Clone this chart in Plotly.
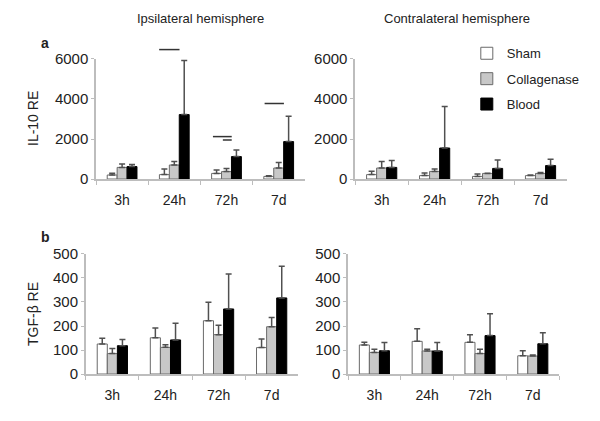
import plotly.graph_objects as go

# ---------------- data ----------------
categories = ["3h", "24h", "72h", "7d"]
series_names = ["Sham", "Collagenase", "Blood"]

il10_ipsi_sham = [200, 220, 280, 130]
il10_ipsi_sham_err = [85, 280, 170, 35]
il10_ipsi_coll = [580, 700, 370, 550]
il10_ipsi_coll_err = [170, 180, 150, 280]
il10_ipsi_blood = [620, 3220, 1120, 1870]
il10_ipsi_blood_err = [100, 2700, 330, 1270]

il10_contra_sham = [220, 170, 130, 170]
il10_contra_sham_err = [165, 130, 120, 35]
il10_contra_coll = [550, 380, 280, 280]
il10_contra_coll_err = [330, 120, 10, 50]
il10_contra_blood = [580, 1550, 530, 670]
il10_contra_blood_err = [340, 2080, 420, 320]

tgf_ipsi_sham = [125, 151, 222, 110]
tgf_ipsi_sham_err = [24, 41, 77, 36]
tgf_ipsi_coll = [85, 111, 164, 197]
tgf_ipsi_coll_err = [21, 11, 39, 38]
tgf_ipsi_blood = [118, 142, 271, 317]
tgf_ipsi_blood_err = [26, 69, 146, 132]

tgf_contra_sham = [121, 136, 132, 76]
tgf_contra_sham_err = [11, 53, 32, 21]
tgf_contra_coll = [90, 96, 85, 75]
tgf_contra_coll_err = [13, 7, 18, 4]
tgf_contra_blood = [97, 96, 160, 126]
tgf_contra_blood_err = [34, 35, 91, 46]

il10_ticks = [0, 2000, 4000, 6000]
tgf_ticks = [0, 100, 200, 300, 400, 500]

# significance bars (ipsilateral IL-10): category index, start offset, end offset, level
sig_cat = [1, 2, 2, 3]
sig_start = [-0.29, -0.26, -0.07, -0.27]
sig_end = [0.10, 0.10, 0.10, 0.10]
sig_level = [6470, 2120, 1950, 3780]

# ---------------- styles ----------------
fills = ["#ffffff", "#c8c8c8", "#000000"]
outlines = ["#6a6a6a", "#6a6a6a", "#000000"]
err_color = "#505050"
axis_color = "#bdbdbd"
text_color = "#222222"
FONT = "Liberation Sans, Arial, sans-serif"

panels = [
    ("x", "y", [il10_ipsi_sham, il10_ipsi_coll, il10_ipsi_blood],
     [il10_ipsi_sham_err, il10_ipsi_coll_err, il10_ipsi_blood_err]),
    ("x2", "y2", [il10_contra_sham, il10_contra_coll, il10_contra_blood],
     [il10_contra_sham_err, il10_contra_coll_err, il10_contra_blood_err]),
    ("x3", "y3", [tgf_ipsi_sham, tgf_ipsi_coll, tgf_ipsi_blood],
     [tgf_ipsi_sham_err, tgf_ipsi_coll_err, tgf_ipsi_blood_err]),
    ("x4", "y4", [tgf_contra_sham, tgf_contra_coll, tgf_contra_blood],
     [tgf_contra_sham_err, tgf_contra_coll_err, tgf_contra_blood_err]),
]

fig = go.Figure()
for pi, (xa, ya, vals, errs) in enumerate(panels):
    for si in range(3):
        fig.add_trace(go.Bar(
            x=categories, y=vals[si], name=series_names[si],
            xaxis=xa, yaxis=ya,
            marker=dict(color=fills[si], line=dict(color=outlines[si], width=1)),
            error_y=dict(type="data", array=errs[si], arrayminus=[0] * len(errs[si]),
                         symmetric=False, color=err_color, thickness=1.5, width=3),
            showlegend=(pi == 0), legendgroup=series_names[si],
        ))

xdom = {"x": [0.160, 0.508], "x2": [0.592, 0.945], "x3": [0.143, 0.497], "x4": [0.580, 0.932]}
ydom = {"y": [0.5748, 0.8599], "y2": [0.5748, 0.8599], "y3": [0.1116, 0.3967], "y4": [0.1116, 0.3967]}

common_x = dict(type="category", showline=True, linecolor=axis_color, linewidth=1.5,
                ticks="outside", tickson="boundaries", ticklen=4, tickcolor=axis_color,
                tickfont=dict(size=14, color=text_color), ticklabelstandoff=7,
                showgrid=False, zeroline=False, range=[-0.5, 3.5], automargin=False)
common_y = dict(showline=True, linecolor=axis_color, linewidth=1.5,
                ticks="outside", ticklen=3, tickcolor=axis_color,
                tickfont=dict(size=15, color=text_color),
                showgrid=False, zeroline=False, automargin=False)

layout = dict(
    width=600, height=421, margin=dict(l=0, r=0, t=0, b=0, pad=0, autoexpand=False),
    paper_bgcolor="white", plot_bgcolor="white",
    font=dict(family=FONT, color=text_color, size=14),
    barmode="group", bargap=0.43, bargroupgap=0,
    legend=dict(x=0.778, y=0.909, xanchor="left", yanchor="top",
                font=dict(size=13), tracegroupgap=5.5, bgcolor="rgba(0,0,0,0)",
                itemwidth=30),
)
for k in ["x", "x2", "x3", "x4"]:
    name = "xaxis" if k == "x" else "xaxis" + k[1:]
    yk = "y" + k[1:]
    layout[name] = dict(common_x, domain=xdom[k], anchor=yk)
for k in ["y", "y2", "y3", "y4"]:
    name = "yaxis" if k == "y" else "yaxis" + k[1:]
    xk = "x" + k[1:]
    ticks = il10_ticks if k in ("y", "y2") else tgf_ticks
    layout[name] = dict(common_y, domain=ydom[k], anchor=xk,
                        range=[ticks[0], ticks[-1]], tickvals=ticks)
fig.update_layout(**layout)

# significance lines: x in category units, y converted through the axis scale to paper
y0d, y1d = ydom["y"]
ymax = il10_ticks[-1]
for c, s, e, lev in zip(sig_cat, sig_start, sig_end, sig_level):
    yp = y0d + lev / ymax * (y1d - y0d)
    fig.add_shape(type="line", xref="x", yref="paper", x0=c + s, x1=c + e, y0=yp, y1=yp,
                  line=dict(color="#333333", width=1.5))

def note(text, px, py, angle=0, size=14):
    fig.add_annotation(text=text, x=px / 600, y=1 - py / 421, xref="paper", yref="paper",
                       showarrow=False, font=dict(size=size), xanchor="center", yanchor="middle",
                       textangle=angle)

note("Ipsilateral hemisphere", 200, 18, size=13)
note("Contralateral hemisphere", 457, 18, size=13)
note("<b>a</b>", 45, 43)
note("<b>b</b>", 45, 237)
note("IL-10 RE", 33, (59 + 179) / 2, -90)
note("TGF-β RE", 33, (254 + 374) / 2, -90)

fig.write_html("out.html", config={"displayModeBar": False},
               post_script="document.body.style.margin='0';")
